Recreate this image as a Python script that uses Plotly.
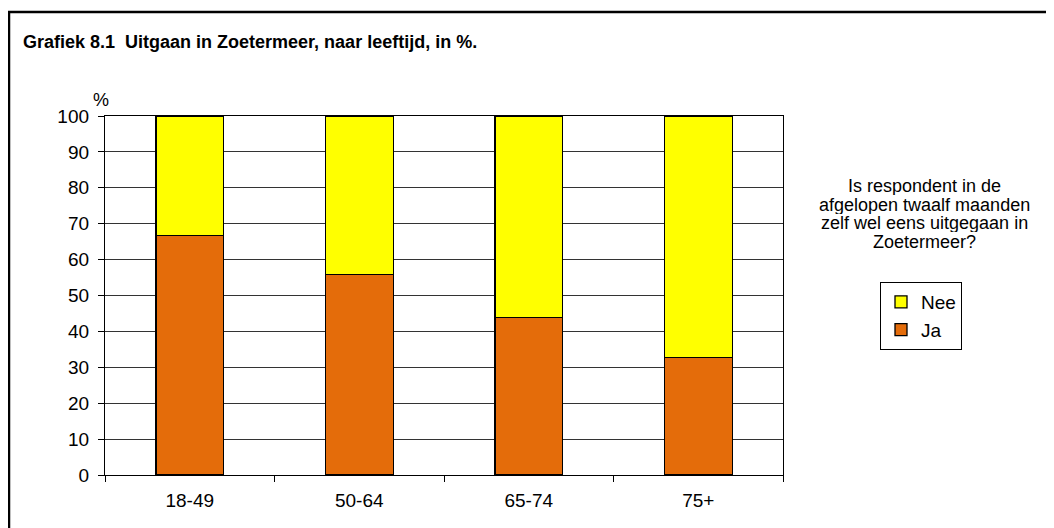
import plotly.graph_objects as go

categories = ["18-49", "50-64", "65-74", "75+"]
ja = [66.7, 55.9, 43.8, 32.7]
nee = [33.3, 44.1, 56.2, 67.3]
series_names = ["Ja", "Nee"]
colors = ["#E46C0A", "#FFFF00"]
y_ticks = list(range(0, 101, 10))
title_text = "Grafiek 8.1  Uitgaan in Zoetermeer, naar leeftijd, in %."
legend_title_lines = ["Is respondent in de", "afgelopen twaalf maanden",
                      "zelf wel eens uitgegaan in", "Zoetermeer?"]

FONT = "Liberation Sans, Arial, sans-serif"
OFF = 8  # default page body margin
W, H = 1054 - OFF, 528 - OFF
# plot area in screen coordinates of the reference
SX0, SX1, SY0, SY1 = 105, 783, 116, 475
ml, mr, mt, mb = SX0 - OFF, W - (SX1 - OFF), SY0 - OFF, H - (SY1 - OFF)
pw = SX1 - SX0
ph = SY1 - SY0

def px(x):
    return (x - SX0) / pw

def py(y):
    return (SY1 - y) / ph

fig = go.Figure()
for name, vals, col in zip(series_names, [ja, nee], colors):
    fig.add_trace(go.Bar(
        x=categories, y=vals, name=name,
        marker=dict(color=col, line=dict(color="#000000", width=1.3)),
    ))

annotations = [
    dict(text="<b>" + title_text + "</b>", xref="paper", yref="paper",
         x=px(21), y=py(42), xanchor="left", yanchor="middle",
         showarrow=False, font=dict(family=FONT, size=18, color="#000000")),
    dict(text="%", xref="paper", yref="paper",
         x=px(101), y=py(100), xanchor="center", yanchor="middle",
         showarrow=False, font=dict(family=FONT, size=18, color="#000000")),
]
for i, line in enumerate(legend_title_lines):
    annotations.append(dict(
        text=line, xref="paper", yref="paper",
        x=px(924), y=py(186 + i * 18.7), xanchor="center", yanchor="middle",
        height=18, borderpad=0, valign="middle",
        showarrow=False, font=dict(family=FONT, size=18, color="#000000")))

fig.update_layout(
    width=W, height=H,
    barmode="stack", bargap=0.6,
    plot_bgcolor="white", paper_bgcolor="white",
    margin=dict(l=ml, r=mr, t=mt, b=mb),
    font=dict(family=FONT, size=19, color="#000000"),
    showlegend=True,
    legend=dict(
        x=px(880), y=py(282), xanchor="left", yanchor="top",
        traceorder="reversed",
        bgcolor="white", bordercolor="#000000", borderwidth=1,
        font=dict(family=FONT, size=19, color="#000000"),
        itemwidth=30, tracegroupgap=0,
    ),
    xaxis=dict(
        type="category", tickson="boundaries", ticks="outside", ticklen=6,
        tickcolor="#000000", showline=True, linecolor="#000000", linewidth=1.3,
        mirror=True, showgrid=False, ticklabelstandoff=8,
        tickfont=dict(family=FONT, size=19, color="#000000"),
    ),
    yaxis=dict(
        range=[0, 100], tickvals=y_ticks, ticks="outside", ticklen=6,
        tickcolor="#000000", showline=True, linecolor="#000000", linewidth=1.3,
        mirror=True, showgrid=True, gridcolor="#333333", gridwidth=1,
        zeroline=False, ticklabelstandoff=5,
        tickfont=dict(family=FONT, size=19, color="#000000"),
    ),
    shapes=[dict(
        type="rect", xref="paper", yref="paper",
        x0=px(9), y0=py(560), x1=px(1080), y1=py(12),
        line=dict(color="#000000", width=2.5), fillcolor="rgba(0,0,0,0)",
        layer="below",
    )],
    annotations=annotations,
)

fig.write_html("out.html")
